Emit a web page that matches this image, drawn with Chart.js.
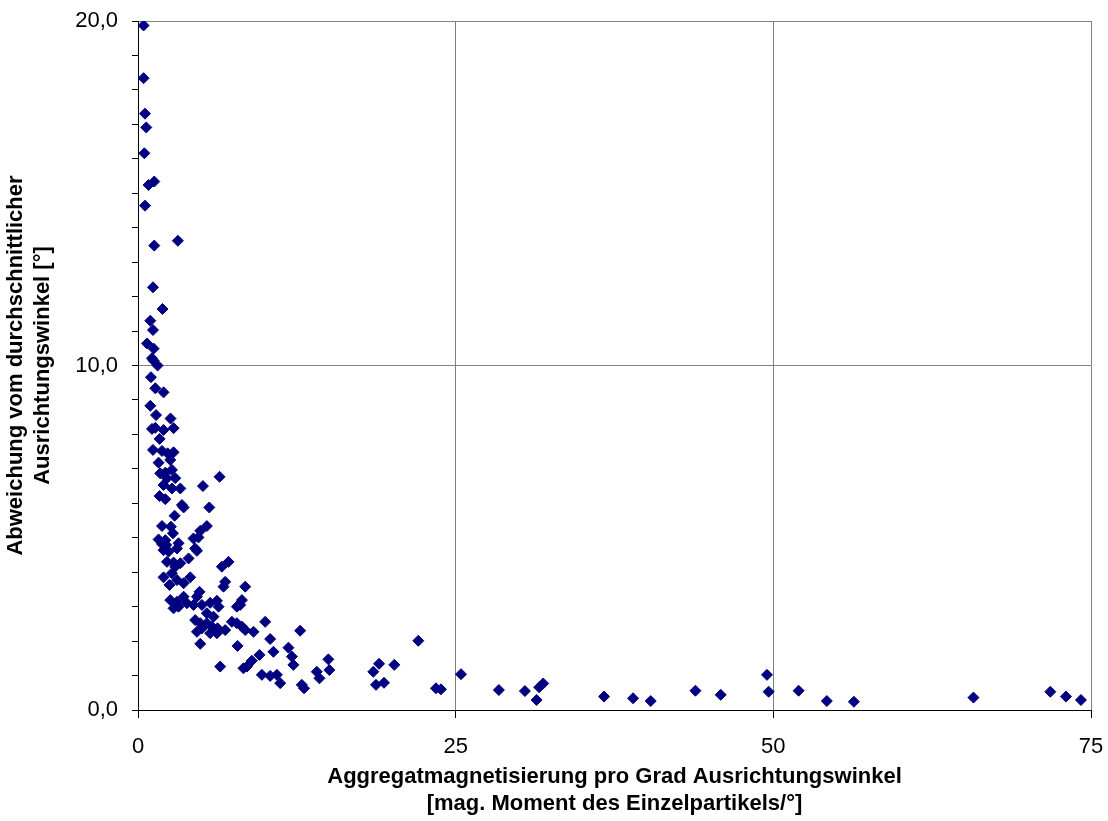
<!DOCTYPE html>
<html lang="de">
<head>
    <meta charset="UTF-8">
    <title>Abweichung vs. Aggregatmagnetisierung</title>
    <script src="https://cdn.jsdelivr.net/npm/chart.js"></script>
    <style>
        body { margin: 0; background: #fff; }
        canvas { display: block; }
    </style>
</head>
<body>
    <canvas id="chart" width="1108" height="821"></canvas>

    <script>
        const magnetisierung = [
            0.44, 0.44, 0.55, 0.65, 0.50, 0.83, 1.28, 0.55, 1.28, 3.14,
            1.18, 1.93, 0.97, 1.18, 0.71, 1.23, 1.10, 1.23, 1.54, 1.02,
            1.36, 2.01, 0.97, 1.42, 2.56, 1.10, 1.36, 2.01, 2.80, 1.70,
            1.18, 1.89, 2.33, 2.80, 1.62, 2.54, 2.67, 1.75, 2.28, 2.93,
            6.42, 2.15, 3.33, 2.01, 2.67, 1.70, 2.15, 5.11, 3.46, 3.59,
            5.61, 2.88, 1.89, 2.59, 5.42, 4.90, 4.37, 4.76, 2.75, 1.62,
            2.15, 1.89, 2.22, 3.19, 3.07, 2.01, 2.41, 4.50, 4.64, 2.28,
            2.80, 3.33, 3.98, 2.93, 6.60, 7.12, 2.01, 2.67, 3.07, 3.59,
            4.11, 2.48, 6.86, 6.73, 8.44, 4.84, 4.64, 2.54, 3.07, 3.59,
            3.85, 4.37, 5.03, 5.68, 6.21, 2.80, 3.19, 6.34, 8.18, 8.04,
            7.78, 5.42, 5.94, 4.50, 4.90, 4.64, 5.03, 5.42, 5.82, 5.68,
            6.26, 6.21, 6.86, 7.39, 7.78, 8.18, 8.44, 9.09, 4.90, 7.83,
            10.01, 10.40, 10.66, 9.56, 8.96, 8.57, 8.30, 6.47, 9.75, 10.40,
            10.93, 11.19, 11.84, 12.11, 12.23, 12.76, 12.89, 13.07, 14.07, 14.28,
            14.98, 15.06, 18.52, 18.97, 18.73, 19.36, 20.17, 22.06, 23.45, 23.84,
            25.42, 28.40, 30.45, 31.37, 31.57, 31.89, 36.68, 38.96, 40.35, 43.87,
            45.86, 49.50, 49.63, 51.99, 54.21, 56.34, 65.75, 71.80, 73.03, 74.21
        ];
        const abweichung = [
            19.87, 18.34, 17.31, 16.91, 16.16, 15.24, 15.34, 14.64, 13.48, 13.62,
            12.27, 11.64, 11.30, 11.03, 10.64, 10.49, 10.21, 10.14, 10.00, 9.66,
            9.34, 9.22, 8.83, 8.56, 8.46, 8.16, 8.19, 8.13, 8.18, 7.87,
            7.55, 7.52, 7.45, 7.48, 7.18, 7.26, 6.97, 6.87, 6.73, 6.73,
            6.77, 6.89, 6.43, 6.53, 6.43, 6.21, 6.12, 6.50, 5.95, 5.88,
            5.88, 5.64, 5.34, 5.32, 5.34, 5.20, 4.98, 5.01, 5.13, 4.95,
            4.93, 4.82, 4.79, 4.84, 4.69, 4.64, 4.60, 4.69, 4.62, 4.30,
            4.28, 4.26, 4.40, 4.16, 4.16, 4.30, 3.85, 3.97, 3.77, 3.68,
            3.85, 3.63, 3.72, 3.58, 3.58, 3.43, 3.29, 3.19, 3.14, 3.29,
            3.10, 3.05, 3.05, 3.11, 3.17, 2.95, 3.00, 3.00, 3.19, 3.05,
            3.00, 2.81, 2.71, 2.61, 2.52, 2.27, 2.37, 2.52, 2.42, 2.23,
            2.37, 2.23, 2.32, 2.56, 2.52, 2.42, 2.32, 2.27, 1.92, 1.86,
            2.56, 2.06, 1.69, 1.60, 1.43, 1.26, 1.21, 1.26, 1.02, 0.99,
            1.02, 0.78, 1.81, 1.55, 1.31, 2.30, 0.73, 0.63, 1.11, 0.92,
            1.47, 1.16, 1.11, 1.34, 0.73, 0.79, 1.31, 2.01, 0.63, 0.60,
            1.04, 0.58, 0.55, 0.29, 0.66, 0.77, 0.39, 0.34, 0.26, 0.56,
            0.44, 1.02, 0.53, 0.56, 0.26, 0.24, 0.36, 0.53, 0.39, 0.29
        ];

        const xTicks = [0, 25, 50, 75];
        const xTickLabels = ['0', '25', '50', '75'];
        const yTicks = [0, 10, 20];
        const yTickLabels = ['0,0', '10,0', '20,0'];

        const punkte = magnetisierung.map((x, i) => ({ x: x, y: abweichung[i] }));

        const gitter = '#808080';
        const leer = 'rgba(0,0,0,0)';
        const schrift = 'Liberation Sans, Arial, sans-serif';

        const ctx = document.getElementById('chart').getContext('2d');

        new Chart(ctx, {
            type: 'scatter',
            data: {
                datasets: [{
                    data: punkte,
                    pointStyle: 'rectRot',
                    pointRadius: 5.5,
                    pointHoverRadius: 5.5,
                    backgroundColor: '#000080',
                    borderColor: '#000080',
                    borderWidth: 1
                }]
            },
            options: {
                responsive: false,
                animation: false,
                layout: { padding: { left: 0, right: 17, top: 21, bottom: 0 } },
                plugins: {
                    legend: { display: false },
                    tooltip: { enabled: false }
                },
                scales: {
                    x: {
                        type: 'linear',
                        min: 0,
                        max: 75,
                        afterFit: (scale) => {
                            scale.height = 111;
                            scale.paddingLeft = 0;
                            scale.paddingRight = 0;
                        },
                        afterBuildTicks: (scale) => {
                            scale.ticks = xTicks.map(v => ({ value: v }));
                        },
                        ticks: {
                            autoSkip: false,
                            maxRotation: 0,
                            padding: 16,
                            color: '#000',
                            font: { family: schrift, size: 22 },
                            callback: (value) => {
                                const i = xTicks.indexOf(value);
                                return i >= 0 ? xTickLabels[i] : '';
                            }
                        },
                        grid: {
                            color: (c) => (c.tick && c.tick.value > 0) ? gitter : leer,
                            tickColor: '#000',
                            tickLength: 8,
                            lineWidth: 1
                        },
                        border: { color: '#000', width: 1 },
                        title: {
                            display: true,
                            text: ['Aggregatmagnetisierung pro Grad Ausrichtungswinkel',
                                   '[mag. Moment des Einzelpartikels/°]'],
                            color: '#000',
                            font: { family: schrift, size: 22, weight: 'bold', lineHeight: 1.25 },
                            padding: { top: 0, bottom: 3 }
                        }
                    },
                    y: {
                        type: 'linear',
                        min: 0,
                        max: 20,
                        afterFit: (scale) => {
                            scale.width = 138;
                            scale.paddingTop = 0;
                            scale.paddingBottom = 0;
                        },
                        ticks: {
                            stepSize: 1,
                            autoSkip: false,
                            padding: 14,
                            color: '#000',
                            font: { family: schrift, size: 22 },
                            callback: (value) => {
                                const i = yTicks.indexOf(value);
                                return i >= 0 ? yTickLabels[i] : '';
                            }
                        },
                        grid: {
                            color: (c) => (c.tick && (c.tick.value === 10 || c.tick.value === 20)) ? gitter : leer,
                            tickColor: '#000',
                            tickLength: 6,
                            lineWidth: 1
                        },
                        border: { color: '#000', width: 1 },
                        title: {
                            display: true,
                            text: ['Abweichung vom durchschnittlicher', 'Ausrichtungswinkel [°]'],
                            color: '#000',
                            font: { family: schrift, size: 22, weight: 'bold', lineHeight: 1.25 },
                            padding: { top: 2, bottom: 0 }
                        }
                    }
                }
            }
        });
    </script>
</body>
</html>
